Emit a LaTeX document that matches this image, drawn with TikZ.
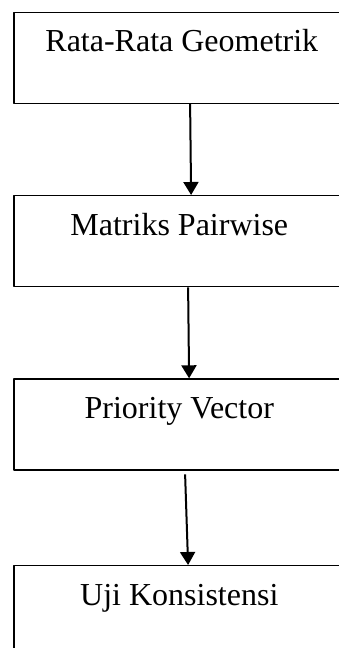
\documentclass[tikz,border=0pt]{standalone}
\usepackage{fontspec}
\setmainfont{Liberation Serif}
\usetikzlibrary{arrows.meta}
\begin{document}
\begin{tikzpicture}[x=1pt,y=-1pt,line join=round,
    kotak/.style={draw,line width=1.3pt,rectangle,anchor=north west,minimum width=330.7pt,
      inner xsep=0pt,inner ysep=0pt,text height=39.5pt,text depth=51.5pt,
      font=\fontsize{32}{38}\selectfont},
    panah/.style={-{Triangle[width=15pt,length=13pt]},line width=2pt}]
    \useasboundingbox (0,0) rectangle (339,648);
    \node[kotak] (rata) at (13.3,11.7) {\hspace*{5pt}Rata-Rata Geometrik};
    \node[kotak] (matriks) at (13.3,195) {Matriks Pairwise};
    \node[kotak] (prior) at (13.3,378.3) {Priority Vector};
    \node[kotak] (uji) at (13.3,565) {Uji Konsistensi};
    \draw[panah] ([xshift=10.8pt]rata.south) -- ([xshift=11.8pt]matriks.north);
    \draw[panah] ([xshift=8.8pt]matriks.south) -- ([xshift=9.8pt]prior.north);
    \draw[panah] ([xshift=5.8pt,yshift=-3.7pt]prior.south) -- ([xshift=8.8pt]uji.north);
\end{tikzpicture}
\end{document}
